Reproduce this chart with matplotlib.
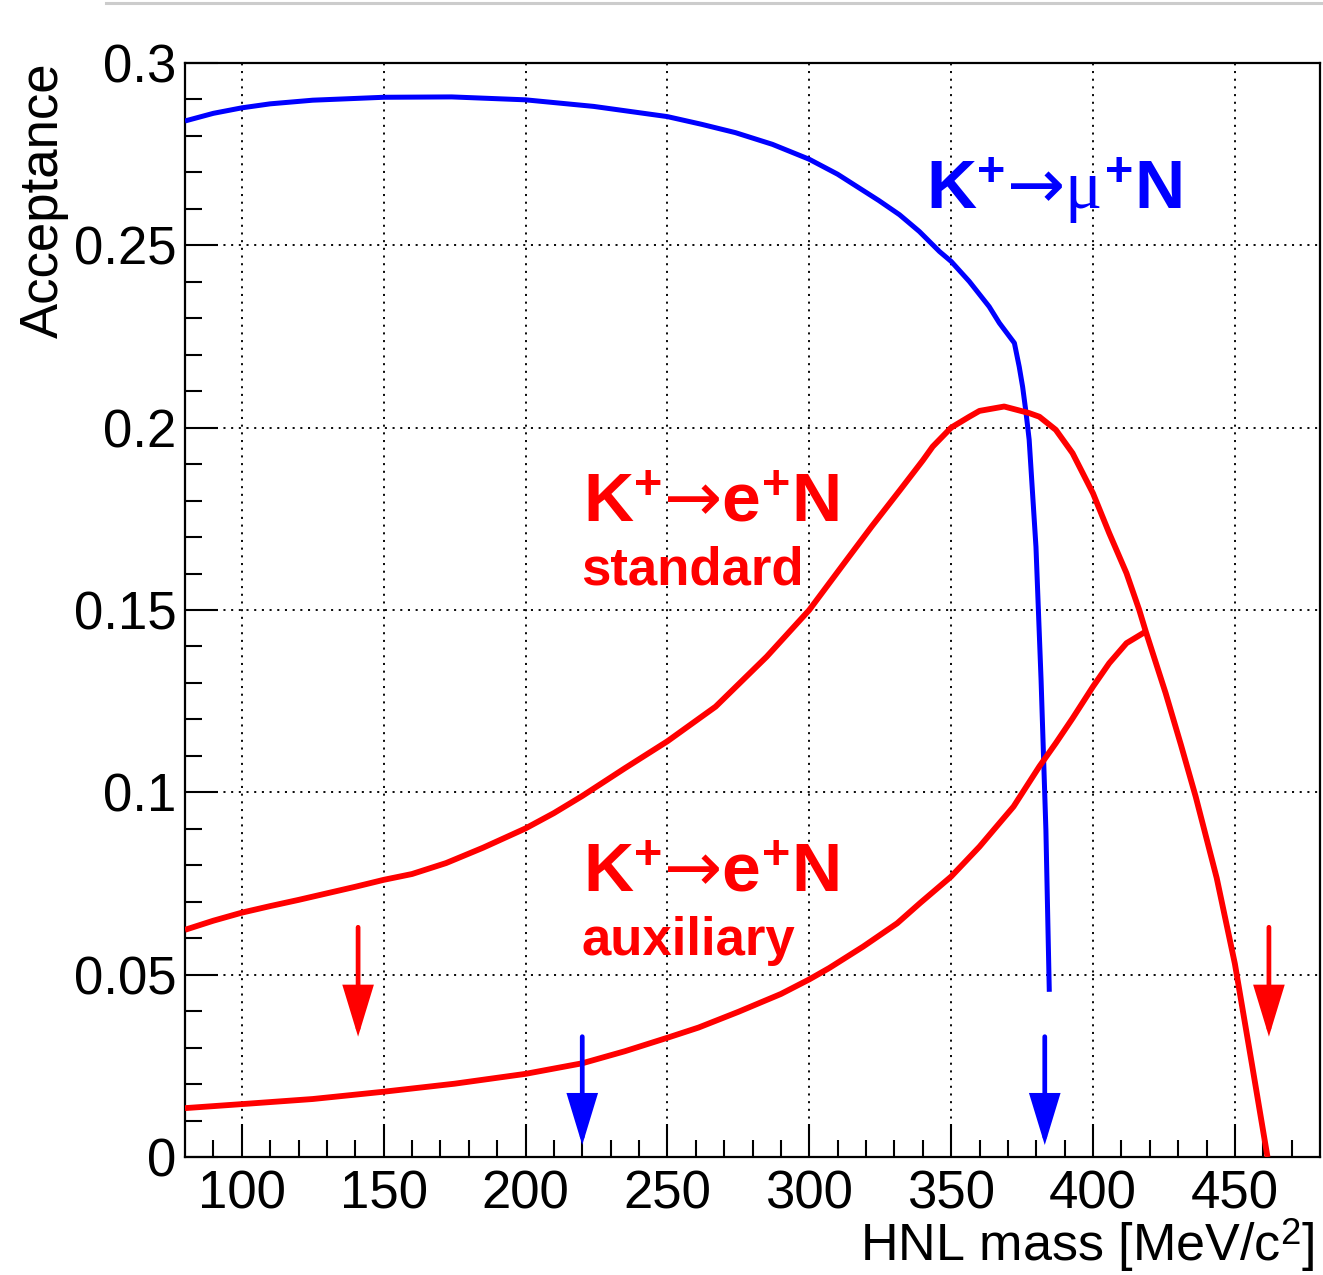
import numpy as np
import matplotlib
matplotlib.use("Agg")
import matplotlib.pyplot as plt
from matplotlib.lines import Line2D

# ---------------- data ----------------
# K+ -> mu+ N acceptance vs HNL mass
mass_mu = [80, 90, 100, 110, 125, 150, 174, 200, 224, 250, 262, 274, 287, 300,
           310, 324.5, 331.8, 338.8, 345.9, 350, 356.4, 363.4, 367, 372.3,
           374.0, 375.2, 376.4, 377.5, 379.9, 381.7, 383.4, 384.6]
acc_mu = [0.2841, 0.2862, 0.2877, 0.2888, 0.2898, 0.2906, 0.2907, 0.2899, 0.2881,
          0.2853, 0.2832, 0.2809, 0.2777, 0.2736, 0.2695, 0.2623, 0.2584, 0.2538,
          0.2483, 0.2456, 0.2401, 0.2332, 0.2287, 0.2232, 0.2167, 0.2112, 0.2041,
          0.1967, 0.1673, 0.1308, 0.0897, 0.0453]

# K+ -> e+ N, standard selection
mass_std = [80, 90, 100, 110, 120, 130, 140, 150, 160, 172, 185, 200, 210, 220,
            235, 250, 267, 285, 300, 314, 322, 332, 340, 343.5, 350, 356.4, 360,
            368.7, 377.5, 381.1, 386.9, 392.8, 400, 405.7, 411.8, 416.3, 418.6,
            425.6, 431, 436.2, 443.6, 450, 456, 461.5]
acc_std = [0.0623, 0.0648, 0.0670, 0.0688, 0.0705, 0.0723, 0.0741, 0.0760, 0.0776,
           0.0806, 0.0848, 0.0901, 0.0943, 0.0990, 0.1066, 0.1140, 0.1235, 0.1372,
           0.1500, 0.1646, 0.1729, 0.1829, 0.1910, 0.1948, 0.2000, 0.2030, 0.2046,
           0.2058, 0.2040, 0.2030, 0.1994, 0.1930, 0.1820, 0.1711, 0.1601, 0.1500,
           0.1441, 0.1272, 0.1130, 0.0988, 0.0765, 0.0530, 0.0255, 0.0]

# K+ -> e+ N, auxiliary selection
mass_aux = [80, 100, 125, 150, 175, 200, 220, 235, 250, 261, 275, 290, 300, 307,
            319, 331, 339, 350, 360, 365, 372, 381.1, 386.9, 392.8, 400, 405.7,
            411.8, 418.6]
acc_aux = [0.0134, 0.0145, 0.0159, 0.0179, 0.0201, 0.0228, 0.0257, 0.0290, 0.0327,
           0.0355, 0.0398, 0.0447, 0.0487, 0.0518, 0.0577, 0.0641, 0.0696, 0.0769,
           0.0851, 0.0897, 0.0961, 0.1071, 0.1135, 0.1203, 0.1290, 0.1354, 0.1409,
           0.1441]

# mass-range markers (downward arrows)
arrow_mass = [141, 220, 383, 462]
arrow_top = [0.063, 0.033, 0.033, 0.063]
arrow_tip = [0.033, 0.0033, 0.0033, 0.033]
arrow_color = ["#ff0000", "#0000ff", "#0000ff", "#ff0000"]

x_major = [100, 150, 200, 250, 300, 350, 400, 450]
y_major = [0, 0.05, 0.1, 0.15, 0.2, 0.25, 0.3]
y_labels = ["0", "0.05", "0.1", "0.15", "0.2", "0.25", "0.3"]

# ---------------- style ----------------
plt.rcParams["font.family"] = ["Liberation Sans", "DejaVu Sans"]
plt.rcParams["mathtext.fontset"] = "custom"
plt.rcParams["mathtext.rm"] = "Liberation Sans"
plt.rcParams["mathtext.bf"] = "Liberation Sans:bold"
plt.rcParams["mathtext.it"] = "Liberation Serif"   # upright serif mu
plt.rcParams["mathtext.sf"] = "DejaVu Sans"        # thin arrow glyph

W, H = 1323, 1275
fig = plt.figure(figsize=(W / 100, H / 100), dpi=100)
ax = fig.add_axes([185 / W, 1 - 1157 / H, (1320 - 185) / W, (1157 - 63) / H])

ax.set_xlim(80, 480)
ax.set_ylim(0, 0.3)

ax.plot(mass_mu, acc_mu, color="#0000ff", lw=3.6, solid_joinstyle="round",
        solid_capstyle="butt", zorder=3)
ax.plot(mass_std, acc_std, color="#ff0000", lw=4.2, solid_joinstyle="round",
        solid_capstyle="butt", zorder=3)
ax.plot(mass_aux, acc_aux, color="#ff0000", lw=4.2, solid_joinstyle="round",
        solid_capstyle="butt", zorder=3)

for xm, yt, yb, c in zip(arrow_mass, arrow_top, arrow_tip, arrow_color):
    ax.annotate("", xy=(xm, yb), xytext=(xm, yt),
                arrowprops=dict(arrowstyle="-|>,head_length=2.3,head_width=0.7",
                                mutation_scale=13, lw=3.4, color=c,
                                shrinkA=0, shrinkB=0, joinstyle="miter"),
                zorder=4)

# axes, ticks, grid
ax.set_xticks(x_major)
ax.set_xticks(np.arange(90, 480, 10), minor=True)
ax.set_yticks(y_major)
ax.set_yticklabels(y_labels)
ax.set_yticks(np.arange(0.01, 0.3, 0.01), minor=True)
ax.tick_params(which="major", direction="in", length=24, width=1.5,
               labelsize=38, top=False, right=False)
ax.tick_params(which="minor", direction="in", length=12, width=1.5,
               top=False, right=False)
ax.tick_params(axis="x", which="major", pad=9)
ax.tick_params(axis="y", which="major", pad=6)
ax.grid(True, which="major", color="black", linestyle=(0, (1.1, 3.0)), linewidth=1.35)
ax.set_axisbelow(True)
for sp in ax.spines.values():
    sp.set_linewidth(1.6)

# axis titles
fig.text(1315 / W, 1 - 1261 / H, "HNL mass [MeV/c$^{2}$]", ha="right",
         va="baseline", fontsize=37.5)
fig.text(19 / W, 1 - 62 / H, "Acceptance", rotation=90, ha="left", va="top",
         fontsize=38)

# channel labels
lab_mu = r"$\mathbf{K}^{\mathbf{+}}\mathsf{→}\mathit{\mu}^{\mathbf{+}}\mathbf{N}$"
lab_e = r"$\mathbf{K}^{\mathbf{+}}\mathsf{→}\mathbf{e}^{\mathbf{+}}\mathbf{N}$"
ax.text(341.3, 0.260, lab_mu, color="#0000ff", fontsize=50, ha="left", va="baseline")
ax.text(220.2, 0.1744, lab_e, color="#ff0000", fontsize=50, ha="left", va="baseline")
ax.text(219.7, 0.1569, "standard", color="#ff0000", fontsize=38,
        fontweight="bold", ha="left", va="baseline")
ax.text(220.2, 0.0728, lab_e, color="#ff0000", fontsize=50, ha="left", va="baseline")
ax.text(219.7, 0.0554, "auxiliary", color="#ff0000", fontsize=38,
        fontweight="bold", ha="left", va="baseline")

# thin rule along the top edge
fig.add_artist(Line2D([106 / W, 1], [1 - 3 / H, 1 - 3 / H], color="#cccccc",
                      lw=2.2, transform=fig.transFigure))

fig.savefig("out.png", dpi=100)
